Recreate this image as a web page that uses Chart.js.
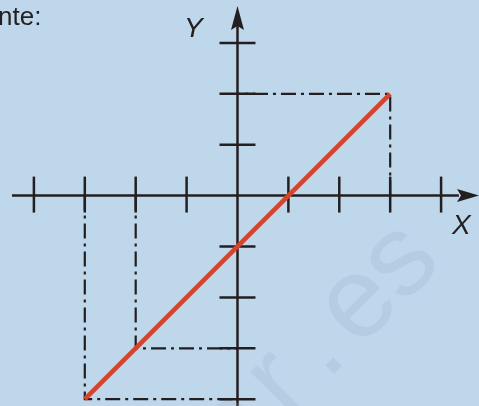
<!DOCTYPE html>
<html>
<head>
<meta charset="utf-8">
<script src="https://cdn.jsdelivr.net/npm/chart.js@4/dist/chart.umd.min.js"></script>
<style>
  html, body { margin: 0; padding: 0; background: #bfd7eb; }
  #grafico { display: block; }
</style>
</head>
<body>
<canvas id="grafico" width="479" height="406"></canvas>
<script>
// recta y = x - 1
const rectaX = [-3, 3];
const rectaY = [-4, 2];

// marcas de los ejes
const marcasX = [-4, -3, -2, -1, 1, 2, 3, 4];
const marcasY = [-4, -3, -2, -1, 1, 2, 3];

// lineas de referencia (punto-raya)
const guiaA = [[-3, 0], [-3, -4], [0, -4]];
const guiaB = [[-2, 0], [-2, -3], [0, -3]];
const guiaC = [[3, 0], [3, 2], [0, 2]];

const cores = {
    fondo: '#bfd7eb',
    eje: '#231f20',
    recta: '#d6442b',
    marca: 'rgba(140, 165, 190, 0.2)'
};

const aPuntos = (arr) => arr.map(p => ({ x: p[0], y: p[1] }));

const guiaEstilo = {
    borderColor: cores.eje,
    borderWidth: 2.2,
    borderDash: [15, 5, 3, 5],
    pointRadius: 0,
    showLine: true,
    fill: false,
    tension: 0
};

const ejes = {
    id: 'ejes',
    beforeDraw(chart) {
        const ctx = chart.ctx;
        ctx.save();
        ctx.fillStyle = cores.fondo;
        ctx.fillRect(0, 0, chart.width, chart.height);
        ctx.restore();
    },
    beforeDatasetsDraw(chart) {
        const ctx = chart.ctx;
        const sx = chart.scales.x, sy = chart.scales.y;
        const x0 = sx.getPixelForValue(0), y0 = sy.getPixelForValue(0);
        ctx.save();
        ctx.strokeStyle = cores.eje;
        ctx.fillStyle = cores.eje;
        ctx.lineWidth = 2.5;

        // eje X
        ctx.beginPath();
        ctx.moveTo(sx.getPixelForValue(-4.43), y0);
        ctx.lineTo(sx.getPixelForValue(4.35), y0);
        ctx.stroke();
        // eje Y
        ctx.beginPath();
        ctx.moveTo(x0, chart.height);
        ctx.lineTo(x0, sy.getPixelForValue(3.4));
        ctx.stroke();

        // marcas
        marcasX.forEach(v => {
            const px = sx.getPixelForValue(v);
            ctx.beginPath();
            ctx.moveTo(px, y0 - 19);
            ctx.lineTo(px, y0 + 17);
            ctx.stroke();
        });
        marcasY.forEach(v => {
            const py = sy.getPixelForValue(v);
            ctx.beginPath();
            ctx.moveTo(x0 - 18, py);
            ctx.lineTo(x0 + 18, py);
            ctx.stroke();
        });

        // flechas
        const tx = sx.getPixelForValue(4.745);
        ctx.beginPath();
        ctx.moveTo(tx, y0);
        ctx.lineTo(tx - 22, y0 - 6.5);
        ctx.lineTo(tx - 18, y0);
        ctx.lineTo(tx - 22, y0 + 6.5);
        ctx.closePath();
        ctx.fill();
        const ty = sy.getPixelForValue(3.725);
        ctx.beginPath();
        ctx.moveTo(x0, ty);
        ctx.lineTo(x0 - 6.5, ty + 24);
        ctx.lineTo(x0, ty + 20);
        ctx.lineTo(x0 + 6.5, ty + 24);
        ctx.closePath();
        ctx.fill();

        // textos
        ctx.font = 'italic 28px "Liberation Sans", Arial, sans-serif';
        ctx.textBaseline = 'alphabetic';
        ctx.textAlign = 'left';
        ctx.fillText('Y', 184, 37);
        ctx.fillText('X', 452, 234);
        ctx.font = '26px "Liberation Sans", Arial, sans-serif';
        ctx.fillText('nte:', -2, 25);
        ctx.restore();
    },
    afterDraw(chart) {
        // marca de agua
        const ctx = chart.ctx;
        ctx.save();
        ctx.translate(333, 365);
        ctx.rotate(-Math.PI / 4);
        ctx.fillStyle = cores.marca;
        ctx.font = '115px "Liberation Sans", Arial, sans-serif';
        ctx.textAlign = 'center';
        ctx.textBaseline = 'alphabetic';
        const letras = ['e', 'r', '.', 'e', 's'];
        const pos = [-118, -52, 0, 61, 121];
        letras.forEach((l, i) => ctx.fillText(l, pos[i], 7));
        ctx.restore();
    }
};

new Chart(document.getElementById('grafico'), {
    type: 'scatter',
    data: {
        datasets: [
            {
                data: rectaX.map((x, i) => ({ x: x, y: rectaY[i] })),
                borderColor: cores.recta,
                borderWidth: 4.5,
                pointRadius: 0,
                showLine: true,
                fill: false
            },
            { ...guiaEstilo, data: aPuntos(guiaA) },
            { ...guiaEstilo, data: aPuntos(guiaB) },
            { ...guiaEstilo, data: aPuntos(guiaC) }
        ]
    },
    options: {
        responsive: false,
        animation: false,
        devicePixelRatio: 1,
        layout: { padding: 0 },
        plugins: {
            legend: { display: false },
            tooltip: { enabled: false }
        },
        scales: {
            x: { type: 'linear', min: -4.666, max: 4.745, display: false },
            y: { type: 'linear', min: -4.134, max: 3.843, display: false }
        }
    },
    plugins: [ejes]
});
</script>
</body>
</html>
